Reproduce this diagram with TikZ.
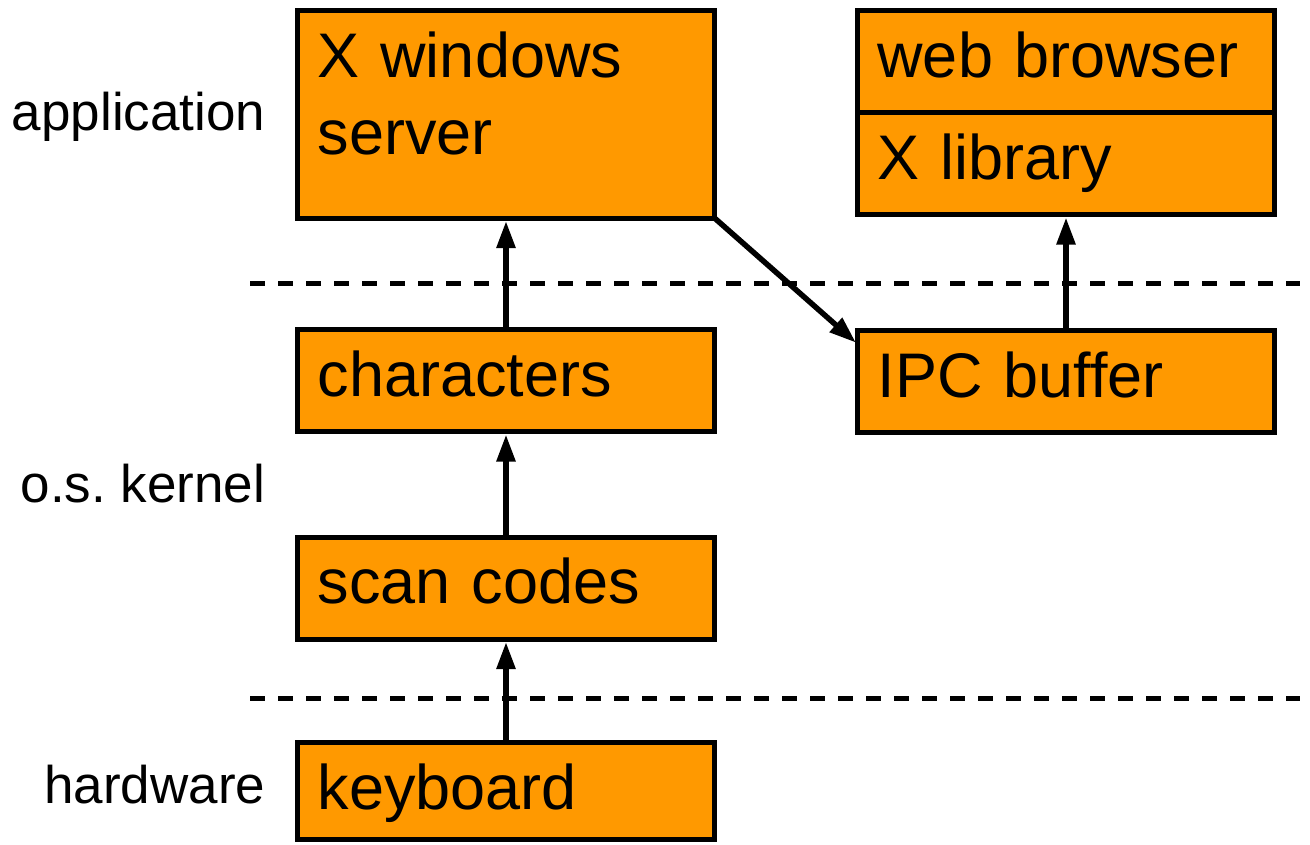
\documentclass[tikz,border=0pt]{standalone}
\usepackage{fontspec}
\setmainfont{Liberation Sans}
\usepackage{xcolor}
\usepackage{tikz}
\usetikzlibrary{arrows.meta}
\usetikzlibrary{positioning}
\definecolor{layerorange}{RGB}{255,153,0}
\frenchspacing

\begin{document}
\begin{tikzpicture}[x=1pt, y=1pt, >={Triangle[length=27pt,width=18pt]}, line width=5.5pt]
  \tikzstyle{layer}=[draw=black, fill=layerorange, line width=5pt, outer sep=0pt, inner xsep=20pt, inner ysep=0pt, text width=377pt, align=left, text height=66.5pt, text depth=35.5pt, font=\fontsize{63}{77}\selectfont]
  \tikzstyle{tier}=[anchor=base east, inner sep=0pt, font=\fontsize{53}{64}\selectfont]
  \tikzstyle{divider}=[dash pattern=on 15pt off 13pt, line width=5pt]
  \useasboundingbox (0,0) rectangle (1310,-844);

  % left column
  \node[layer, anchor=north west] (xserv) at (297.5,-10.5) [text depth=141pt] {X windows\\server};
  \node[layer] (chars) [below=111.5pt of xserv] {characters};
  \node[layer] (scan) [below=105.5pt of chars] {scan codes};
  \node[layer] (keyb) [below=103.5pt of scan, text depth=30pt] {keyboard};

  % right column
  \node[layer, anchor=north west] (browser) at (857.5,-10.5) {web browser};
  \node[layer] (xlib) [below=0pt of browser] {X library};
  \node[layer] (ipc) [below=116pt of xlib] {IPC buffer};

  % levels
  \node[tier] (app) at (268,-130) {application};
  \node[tier] (kern) at (268,-502) {o.s. kernel};
  \node[tier] (hw) at (268,-803) {hardware};

  \coordinate (d1a) at (250,-283);
  \coordinate (d1b) at (1300,-283);
  \coordinate (d2a) at (250,-698);
  \coordinate (d2b) at (1300,-698);
  \draw[divider] (d1a) -- (d1b);
  \draw[divider] (d2a) -- (d2b);

  \draw[->, shorten >=3pt] (chars.north) -- (xserv.south);
  \draw[->, shorten >=3pt] (scan.north) -- (chars.south);
  \draw[->, shorten >=3pt] (keyb.north) -- (scan.south);
  \draw[->, shorten >=3pt] (ipc.north) -- (xlib.south);
  \draw[->, shorten >=2pt] (xserv.south east) -- ([yshift=-13.5pt]ipc.north west);
\end{tikzpicture}
\end{document}
